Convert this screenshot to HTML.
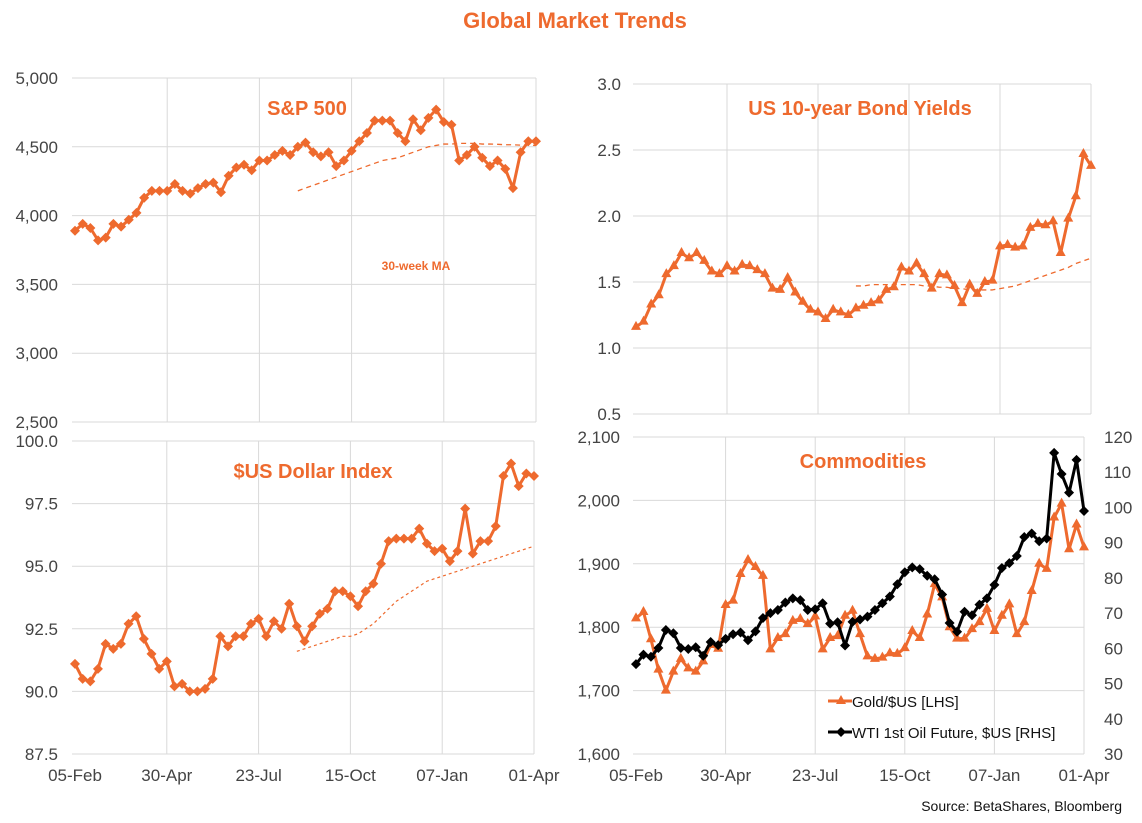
<!DOCTYPE html>
<html><head><meta charset="utf-8"><style>
body{margin:0;background:#fff;}
svg{display:block;font-family:"Liberation Sans",Arial,sans-serif;}
</style></head><body>
<svg id="c" width="1142" height="823">
<text x="575" y="28" text-anchor="middle" font-size="22" font-weight="bold" fill="#EE6A2E">Global Market Trends</text>
<text x="1122" y="811" text-anchor="end" font-size="14" fill="#111">Source: BetaShares, Bloomberg</text>
</svg>
<script>
const dateTicks=["05-Feb","30-Apr","23-Jul","15-Oct","07-Jan","01-Apr"];
const spx=[3890,3940,3910,3820,3840,3940,3920,3970,4020,4130,4180,4180,4180,4230,4180,4160,4200,4230,4240,4170,4290,4350,4370,4330,4400,4400,4440,4470,4440,4500,4530,4460,4430,4460,4360,4400,4470,4540,4600,4690,4690,4690,4600,4540,4700,4620,4710,4770,4680,4660,4400,4440,4500,4420,4360,4400,4340,4200,4460,4540,4540];
const spxMA=[4180,4200,4220,4240,4260,4280,4300,4320,4340,4360,4380,4400,4410,4420,4440,4460,4480,4500,4510,4520,4520,4525,4525,4525,4520,4520,4518,4515,4515,4512,4512,4510];
const spxTicks=[2500,3000,3500,4000,4500,5000];
const ust=[1.16,1.20,1.33,1.40,1.56,1.62,1.72,1.68,1.72,1.66,1.58,1.56,1.62,1.58,1.63,1.62,1.59,1.56,1.45,1.44,1.53,1.42,1.35,1.29,1.27,1.22,1.29,1.27,1.25,1.30,1.32,1.34,1.36,1.44,1.46,1.61,1.58,1.64,1.56,1.45,1.56,1.55,1.47,1.34,1.48,1.41,1.50,1.51,1.77,1.78,1.76,1.77,1.91,1.94,1.93,1.96,1.72,1.98,2.15,2.47,2.38];
const ustMA=[1.47,1.47,1.48,1.48,1.48,1.48,1.48,1.48,1.48,1.47,1.47,1.46,1.46,1.45,1.45,1.44,1.44,1.44,1.44,1.45,1.46,1.47,1.49,1.51,1.53,1.55,1.57,1.59,1.61,1.64,1.66,1.68];
const ustTicks=[0.5,1.0,1.5,2.0,2.5,3.0];
const dxy=[91.1,90.5,90.4,90.9,91.9,91.7,91.9,92.7,93.0,92.1,91.5,90.9,91.2,90.2,90.3,90.0,90.0,90.1,90.5,92.2,91.8,92.2,92.2,92.7,92.9,92.2,92.8,92.5,93.5,92.6,92.0,92.6,93.1,93.3,94.0,94.0,93.8,93.4,94.0,94.3,95.1,96.0,96.1,96.1,96.1,96.5,95.9,95.6,95.7,95.2,95.6,97.3,95.5,96.0,96.0,96.6,98.6,99.1,98.2,98.7,98.6];
const dxyMA=[91.6,91.7,91.8,91.9,92.0,92.1,92.2,92.2,92.3,92.5,92.7,93.0,93.3,93.6,93.8,94.0,94.2,94.4,94.5,94.6,94.7,94.8,94.9,95.0,95.1,95.2,95.3,95.4,95.5,95.6,95.7,95.8];
const dxyTicks=[87.5,90.0,92.5,95.0,97.5,100.0];
const gold=[1814,1824,1781,1733,1700,1730,1750,1735,1730,1746,1772,1766,1835,1842,1884,1906,1895,1881,1765,1783,1789,1810,1813,1805,1817,1765,1783,1786,1818,1826,1789,1754,1750,1752,1759,1758,1767,1794,1783,1820,1868,1847,1800,1782,1782,1797,1808,1829,1794,1818,1836,1789,1808,1857,1900,1892,1973,1995,1923,1962,1926];
const oil=[55.5,58.2,57.6,60.1,65.2,64.3,60.1,59.8,60.3,57.9,61.8,60.9,62.7,64,64.5,62.3,64.8,68.6,70,70.9,73,74.2,73.7,70.9,71.1,72.8,67,67.4,60.8,67.5,68.2,69,70.9,72.8,74.7,78.2,81.6,83,82.5,80.6,79.6,75.3,67.2,64.7,70.4,69.4,72.4,74.2,78,82.8,84.2,86.2,91.6,92.6,90.4,91.2,115.5,109.5,104.2,113.5,99];
const goldTicks=[1600,1700,1800,1900,2000,2100];
const oilTicks=[30,40,50,60,70,80,90,100,110,120];

const NS="http://www.w3.org/2000/svg";
const svg=document.getElementById('c');
const OR="#EE6A2E";
function mk(tag,attrs,parent){const e=document.createElementNS(NS,tag);for(const k in attrs)e.setAttribute(k,attrs[k]);(parent||svg).appendChild(e);return e;}

function panel(p){
  const g=mk('g',{});
  
  
  const y=v=>p.y0+(p.t[p.t.length-1]-v)/(p.t[p.t.length-1]-p.t[0])*(p.y1-p.y0);
  const x=(i,n)=>p.x0+i*(p.x1-p.x0)/(n-1);
  p.t.forEach(v=>{
    const l=mk('line',{x1:p.gx0,x2:p.x1,y1:y(v),y2:y(v),stroke:'#d9d9d9','stroke-width':1},g);
    
    
    const t=mk('text',{x:p.lx,y:y(v)+6,'text-anchor':'end','font-size':17,fill:'#444'},g);
    
    
    t.textContent=p.fmt(v);
  });
  for(let k=1;k<dateTicks.length;k++){
    const gx=p.x0+k*(p.x1-p.x0)/(dateTicks.length-1);
    const l=mk('line',{x1:gx,x2:gx,y1:p.y0,y2:p.y1,stroke:'#d9d9d9','stroke-width':1},g);
    
    
  }
  if(p.xl){dateTicks.forEach((d,k)=>{
    const t=mk('text',{x:p.x0+k*(p.x1-p.x0)/(dateTicks.length-1),y:p.y1+27,'text-anchor':'middle','font-size':17,fill:'#444'},g);
    
    
    t.textContent=d;
  });}
  const tt=mk('text',{x:p.tx,y:p.ty,'text-anchor':'middle','font-size':20,'font-weight':'bold',fill:OR},g);
  
  
  tt.textContent=p.title;
  p.series.forEach(s=>{
    const yy=s.yf||y;
    const n=s.n||s.d.length, off=s.off||0;
    const pts=s.d.map((v,i)=>[x(i+off,n),yy(v)]);
    const pl=mk('polyline',{points:pts.map(q=>q.join(',')).join(' '),fill:'none',stroke:s.c,'stroke-width':s.w,'stroke-dasharray':s.dash||'none','stroke-linejoin':'round'},g);
    
    
    if(s.m){pts.forEach(q=>{
      let m;
      if(s.m==='d')m=mk('polygon',{points:`${q[0]},${q[1]-5} ${q[0]+5},${q[1]} ${q[0]},${q[1]+5} ${q[0]-5},${q[1]}`,fill:s.c},g);
      else m=mk('polygon',{points:`${q[0]},${q[1]-6} ${q[0]+5},${q[1]+3} ${q[0]-5},${q[1]+3}`,fill:s.c},g);
      
      
    });}
  });
  return y;
}
const f0=v=>v.toLocaleString('en-US');
panel({name:'sp500-panel',x0:75,x1:536,gx0:72,y0:78,y1:422,t:spxTicks,lx:58,fmt:f0,title:'S&P 500',tx:307,ty:115,
  series:[{name:'sp500-ma-line',d:spxMA,off:29,n:61,c:OR,w:1.3,dash:'5,4'},{name:'sp500-line',d:spx,c:OR,w:3,m:'d'}]});
const ma=mk('text',{x:416,y:270,'text-anchor':'middle','font-size':12,'font-weight':'bold',fill:OR});


ma.textContent='30-week MA';
panel({name:'us10y-panel',x0:636,x1:1091,gx0:633,y0:84,y1:414,t:ustTicks,lx:621,fmt:v=>v.toFixed(1),title:'US 10-year Bond Yields',tx:860,ty:115,
  series:[{name:'us10y-ma-line',d:ustMA,off:29,n:61,c:OR,w:1.3,dash:'5,4'},{name:'us10y-line',d:ust,c:OR,w:3,m:'t'}]});
panel({name:'dollar-index-panel',x0:75,x1:534,gx0:72,y0:441,y1:754,t:dxyTicks,lx:58,fmt:v=>v.toFixed(1),title:'$US Dollar Index',tx:313,ty:478,xl:true,
  series:[{name:'dollar-ma-line',d:dxyMA,off:29,n:61,c:OR,w:1.2,dash:'3,3'},{name:'dollar-line',d:dxy,c:OR,w:3,m:'d'}]});
const oy=v=>437+(120-v)/90*(754-437);
panel({name:'commodities-panel',x0:636,x1:1084,gx0:633,y0:437,y1:754,t:goldTicks,lx:620,fmt:f0,title:'Commodities',tx:863,ty:468,xl:true,
  series:[{name:'gold-line',d:gold,c:OR,w:3,m:'t'},{name:'oil-line',d:oil,c:'#000',w:3,m:'d',yf:oy}]});
oilTicks.forEach(v=>{
  const t=mk('text',{x:1104,y:oy(v)+6,'font-size':17,fill:'#444'});
  
  
  t.textContent=v;
});
const lg=mk('g',{});


mk('line',{x1:828,x2:852,y1:701,y2:701,stroke:OR,'stroke-width':3},lg);
mk('polygon',{points:'841,695 846,704 836,704',fill:OR},lg);
const l1=mk('text',{x:852,y:707,'font-size':15,fill:'#111'},lg);


l1.textContent='Gold/$US [LHS]';
mk('line',{x1:828,x2:852,y1:732,y2:732,stroke:'#000','stroke-width':3},lg);
mk('polygon',{points:'841,727 846,732 841,737 836,732',fill:'#000'},lg);
const l2=mk('text',{x:852,y:738,'font-size':15,fill:'#111'},lg);


l2.textContent='WTI 1st Oil Future, $US [RHS]';
</script>
</body></html>
